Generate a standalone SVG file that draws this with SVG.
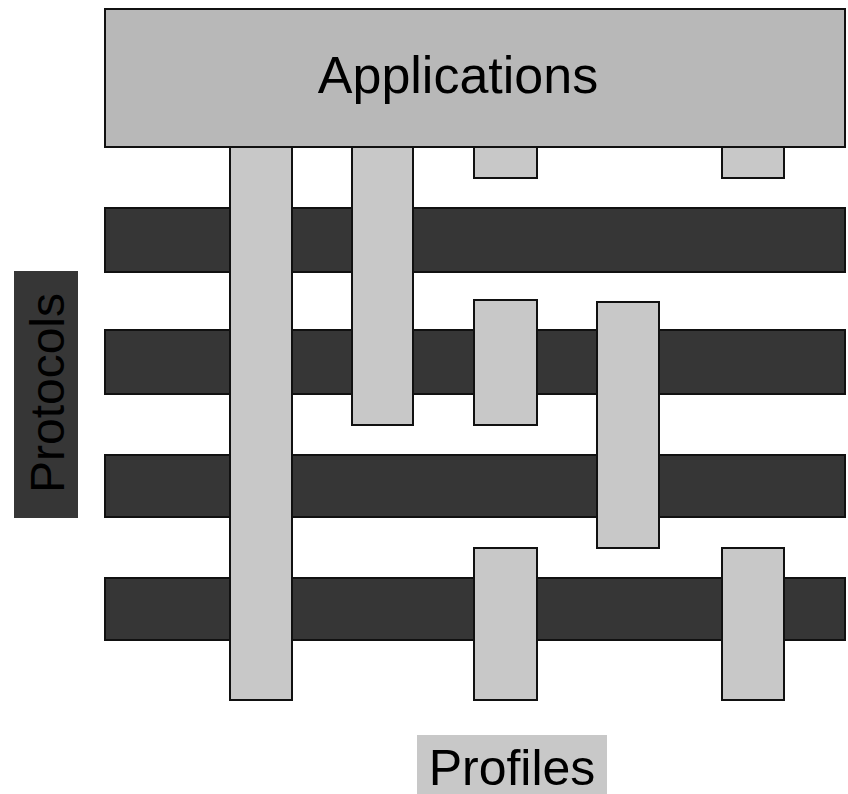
<svg xmlns="http://www.w3.org/2000/svg" width="848" height="794" viewBox="0 0 848 794">
  <style>
    .proto { fill: #363636; stroke: #111; stroke-width: 2; }
    .prof { fill: #c8c8c8; stroke: #111; stroke-width: 2; }
    .app { fill: #b8b8b8; stroke: #111; stroke-width: 2; }
    .lbl { font-family: "Liberation Sans", Arial, sans-serif; fill: #000; }
  </style>
  <rect width="848" height="794" fill="#fff"/>

  <!-- protocol layers -->
  <g id="protocols">
    <rect class="proto" x="105" y="208" width="740" height="64"/>
    <rect class="proto" x="105" y="330" width="740" height="64"/>
    <rect class="proto" x="105" y="455" width="740" height="62"/>
    <rect class="proto" x="105" y="578" width="740" height="62"/>
  </g>

  <!-- profile columns -->
  <g id="profiles">
    <rect class="prof" x="230" y="140" width="62" height="560"/>
    <rect class="prof" x="352" y="140" width="61" height="285"/>
    <rect class="prof" x="474" y="140" width="63" height="38"/>
    <rect class="prof" x="722" y="140" width="62" height="38"/>
    <rect class="prof" x="474" y="300" width="63" height="125"/>
    <rect class="prof" x="597" y="302" width="62" height="246"/>
    <rect class="prof" x="474" y="548" width="63" height="152"/>
    <rect class="prof" x="722" y="548" width="62" height="152"/>
  </g>

  <!-- applications block -->
  <g id="applications">
    <rect class="app" x="105" y="9" width="740" height="138"/>
    <text class="lbl" x="458" y="93" font-size="52" text-anchor="middle">Applications</text>
  </g>

  <!-- axis labels -->
  <g id="protocols-label">
    <rect x="14" y="271" width="64" height="247" fill="#363636"/>
    <text class="lbl" transform="translate(64,393) rotate(-90)" font-size="48" text-anchor="middle">Protocols</text>
  </g>
  <g id="profiles-label">
    <rect x="417" y="735" width="190" height="59" fill="#c8c8c8"/>
    <text class="lbl" x="512" y="785" font-size="50" text-anchor="middle">Profiles</text>
  </g>
</svg>
